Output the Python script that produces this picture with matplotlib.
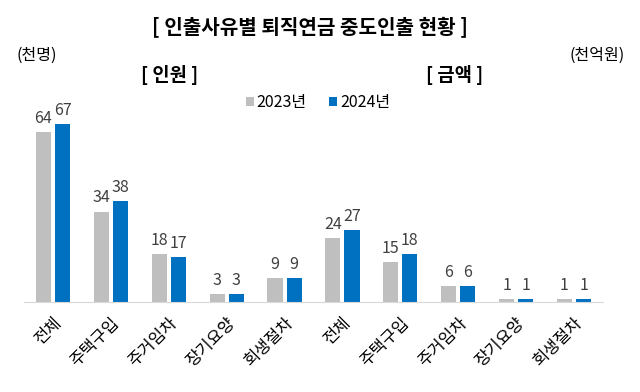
"""인출사유별 퇴직연금 중도인출 현황 막대그래프."""

import numpy as np
import matplotlib
matplotlib.use("Agg")
import matplotlib.pyplot as plt

plt.rcParams["font.family"] = ["Noto Sans CJK KR", "DejaVu Sans"]

# 데이터
categories = ["전체", "주택구입", "주거임차", "장기요양", "회생절차",
              "전체", "주택구입", "주거임차", "장기요양", "회생절차"]
values_2023 = [64, 34, 18, 3, 9, 24, 15, 6, 1, 1]
values_2024 = [67, 38, 17, 3, 9, 27, 18, 6, 1, 1]
series_labels = ["2023년", "2024년"]

GRAY = "#BFBFBF"
BLUE = "#0070C0"

fig = plt.figure(figsize=(6.4, 3.92), dpi=100)
ax = fig.add_axes([24 / 640, 1 - 302 / 392, 579 / 640, 202 / 392])

x = np.arange(len(categories))
w = 0.26
off = 0.165
b1 = ax.bar(x - off, values_2023, width=w, color=GRAY, label=series_labels[0])
b2 = ax.bar(x + off, values_2024, width=w, color=BLUE, label=series_labels[1])

for bars in (b1, b2):
    for r in bars:
        ax.text(r.get_x() + r.get_width() / 2, r.get_height() + 2.0,
                f"{r.get_height():.0f}", ha="center", va="bottom",
                fontsize=11.5, color="#404040")

ax.set_xlim(-0.5, len(categories) - 0.5)
ax.set_ylim(0, 76)
ax.set_yticks([])
for s in ["top", "right", "left"]:
    ax.spines[s].set_visible(False)
ax.spines["bottom"].set_color("#D9D9D9")
ax.set_xticks(x)
ax.set_xticklabels(categories, rotation=45, ha="right", rotation_mode="anchor",
                   fontsize=12)
ax.tick_params(axis="x", length=0, pad=9)

# 제목, 단위, 구역명
fig.text(310 / 640, 1 - 27 / 392, "[ 인출사유별 퇴직연금 중도인출 현황 ]",
         ha="center", va="center", fontsize=14.5, fontweight="bold")
fig.text(37 / 640, 1 - 55 / 392, "(천명)", ha="center", va="center", fontsize=11.5)
fig.text(597 / 640, 1 - 55 / 392, "(천억원)", ha="center", va="center", fontsize=11.5)
fig.text(170 / 640, 1 - 75 / 392, "[ 인원 ]", ha="center", va="center",
         fontsize=13.5, fontweight="bold")
fig.text(455 / 640, 1 - 75 / 392, "[ 금액 ]", ha="center", va="center",
         fontsize=13.5, fontweight="bold")

fig.legend(loc="center", bbox_to_anchor=(318 / 640, 1 - 103 / 392), ncol=2,
           frameon=False, fontsize=11.5, handlelength=0.5, handleheight=0.5,
           handletextpad=0.2, columnspacing=1.4)

fig.savefig("out.png", dpi=100)
